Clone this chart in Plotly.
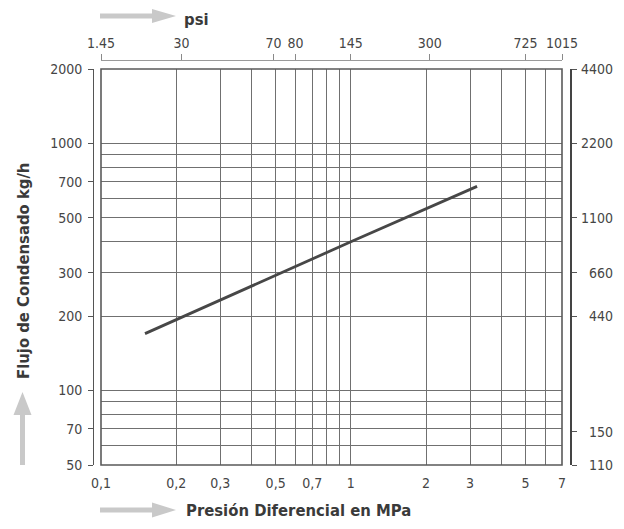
import math
import plotly.graph_objects as go

# ---- data ----
pressure_mpa = [0.15, 1.0, 3.2]
flow_kgh = [170, 400, 670]

x_tick_vals = [0.1, 0.2, 0.3, 0.5, 0.7, 1, 2, 3, 5, 7]
x_tick_text = ["0,1", "0,2", "0,3", "0,5", "0,7", "1", "2", "3", "5", "7"]
x_minor_vals = [0.4, 0.6, 0.8, 0.9, 4, 6]

psi_tick_pos_mpa = [0.1, 0.21, 0.49, 0.6, 1.0, 2.07, 5.0, 7.0]
psi_tick_text = ["1.45", "30", "70", "80", "145", "300", "725", "1015"]

y_tick_vals = [50, 70, 100, 200, 300, 500, 700, 1000, 2000]
y_tick_text = ["50", "70", "100", "200", "300", "500", "700", "1000", "2000"]
y_minor_vals = [60, 80, 90, 400, 600, 800, 900]

lbh_tick_vals = [110, 150, 440, 660, 1100, 2200, 4400]
lbh_tick_text = ["110", "150", "440", "660", "1100", "2200", "4400"]

x_range = [0.1, 7]
y_range = [50, 2000]
lbh_range = [110, 4400]

# ---- layout geometry (page pixels; the page body has an 8px margin) ----
OFF = 8
W, H = 624 - OFF, 529 - OFF
ML, MR, MT, MB = 93 - OFF, 53, 60 - OFF, 64
PW, PH = W - ML - MR, H - MT - MB
FRAME_L, FRAME_R, FRAME_T = 101, 562, 69


def px(x):
    return (x - OFF - ML) / PW


def py(y):
    return (H - MB - (y - OFF)) / PH


dom_x = [px(FRAME_L), px(FRAME_R)]
dom_y = [0, py(FRAME_T)]

TICK_FONT = dict(family="DejaVu Sans Condensed, sans-serif", size=14, color="#454545")
TITLE_FONT = dict(family="DejaVu Sans Condensed, DejaVu Sans, sans-serif", size=16.5, color="#3a3a3a", weight="bold")
GRID = "#707070"
ARROW = "#c9c9c9"

fig = go.Figure()
fig.add_trace(go.Scatter(x=pressure_mpa, y=flow_kgh, mode="lines",
                         line=dict(color="#474747", width=2.8), hoverinfo="skip"))
fig.add_trace(go.Scatter(x=[], y=[], xaxis="x2", yaxis="y", hoverinfo="skip"))
fig.add_trace(go.Scatter(x=[], y=[], xaxis="x", yaxis="y2", hoverinfo="skip"))

fig.update_layout(
    template="none",
    width=W, height=H,
    margin=dict(l=ML, r=MR, t=MT, b=MB, pad=0, autoexpand=False),
    paper_bgcolor="white", plot_bgcolor="white",
    showlegend=False,
    xaxis=dict(
        type="log", domain=dom_x, anchor="y", automargin=False,
        range=[math.log10(x_range[0]), math.log10(x_range[1])],
        tickmode="array", tickvals=x_tick_vals, ticktext=x_tick_text,
        ticks="", showline=False, zeroline=False,
        showgrid=True, gridcolor=GRID, gridwidth=1,
        minor=dict(tickmode="array", tickvals=x_minor_vals, showgrid=True,
                   gridcolor=GRID, gridwidth=1, ticks=""),
        tickfont=TICK_FONT, ticklabelstandoff=8,
    ),
    xaxis2=dict(
        type="log", overlaying="x", side="top", anchor="free", position=1, automargin=False,
        range=[math.log10(x_range[0]), math.log10(x_range[1])],
        tickmode="array", tickvals=psi_tick_pos_mpa, ticktext=psi_tick_text,
        ticks="outside", ticklen=6, tickcolor="#8a8a8a", tickwidth=1,
        showline=True, linecolor="#9a9a9a", linewidth=1,
        showgrid=False, zeroline=False, tickfont=TICK_FONT,
    ),
    yaxis=dict(
        type="log", domain=dom_y, anchor="free", position=0, side="left", automargin=False,
        range=[math.log10(y_range[0]), math.log10(y_range[1])],
        tickmode="array", tickvals=y_tick_vals, ticktext=y_tick_text,
        ticks="outside", ticklen=5, tickcolor="#555", tickwidth=1,
        showline=True, linecolor="#555", linewidth=1,
        showgrid=True, gridcolor=GRID, gridwidth=1, zeroline=False,
        minor=dict(tickmode="array", tickvals=y_minor_vals, showgrid=True,
                   gridcolor=GRID, gridwidth=1, ticks=""),
        tickfont=TICK_FONT, ticklabelstandoff=3,
    ),
    yaxis2=dict(
        type="log", overlaying="y", side="right", anchor="free", position=1, automargin=False,
        range=[math.log10(lbh_range[0]), math.log10(lbh_range[1])],
        tickmode="array", tickvals=lbh_tick_vals, ticktext=lbh_tick_text,
        ticks="outside", ticklen=5, tickcolor="#555", tickwidth=1,
        showline=True, linecolor="#444", linewidth=2,
        showgrid=False, zeroline=False, showticklabels=False,
    ),
)

# right-axis labels, right aligned like the reference, placed through the y2 scale
for v, t in zip(lbh_tick_vals, lbh_tick_text):
    fig.add_annotation(text=t, xref="paper", yref="y2", x=px(615), y=math.log10(v),
                       xanchor="right", yanchor="middle", showarrow=False, font=TICK_FONT)

# plot frame
fig.add_shape(type="rect", xref="x domain", yref="y domain", x0=0, x1=1, y0=0, y1=1,
              line=dict(color="#5a5a5a", width=1.6), fillcolor="rgba(0,0,0,0)", layer="above")


# decorative arrows (pixel geometry)
def h_arrow(x0, x1, head_x, cy, shaft, head):
    fig.add_shape(type="path", xref="paper", yref="paper", line=dict(width=0), fillcolor=ARROW,
                  path=(f"M {px(x0)} {py(cy - shaft/2)} L {px(head_x)} {py(cy - shaft/2)} "
                        f"L {px(head_x)} {py(cy - head/2)} L {px(x1)} {py(cy)} "
                        f"L {px(head_x)} {py(cy + head/2)} L {px(head_x)} {py(cy + shaft/2)} "
                        f"L {px(x0)} {py(cy + shaft/2)} Z"))


def v_arrow(cx, y0, y1, head_y, shaft, head):
    fig.add_shape(type="path", xref="paper", yref="paper", line=dict(width=0), fillcolor=ARROW,
                  path=(f"M {px(cx - shaft/2)} {py(y0)} L {px(cx - shaft/2)} {py(head_y)} "
                        f"L {px(cx - head/2)} {py(head_y)} L {px(cx)} {py(y1)} "
                        f"L {px(cx + head/2)} {py(head_y)} L {px(cx + shaft/2)} {py(head_y)} "
                        f"L {px(cx + shaft/2)} {py(y0)} Z"))


h_arrow(100, 176, 152, 16, 5, 14)
h_arrow(100, 176, 152, 510, 5, 15)
v_arrow(22.5, 465, 392, 415, 5, 18)

fig.add_annotation(text="psi", xref="paper", yref="paper", x=px(183), y=py(8.5),
                   xanchor="left", yanchor="top", borderpad=0, showarrow=False, font=TITLE_FONT)
fig.add_annotation(text="Presión Diferencial en MPa", xref="paper", yref="paper",
                   x=px(298), y=py(510), xanchor="center", yanchor="middle",
                   showarrow=False, font=TITLE_FONT)
fig.add_annotation(text="Flujo de Condensado kg/h", xref="paper", yref="paper",
                   x=px(23), y=py(271), xanchor="center", yanchor="middle", textangle=-90,
                   showarrow=False, font=TITLE_FONT)

fig.write_html("out.html")
